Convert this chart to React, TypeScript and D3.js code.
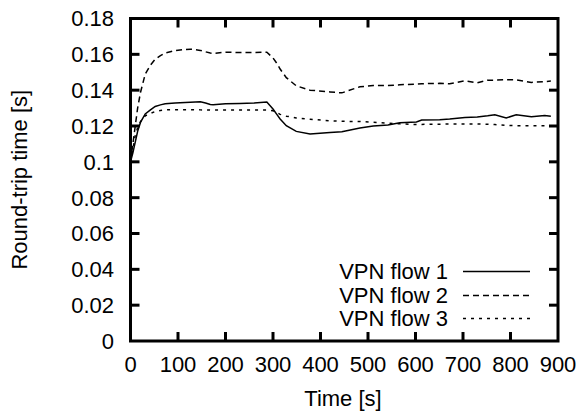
import React from 'react';
import * as d3 from 'd3';

const times = [0, 5, 10, 15, 21, 31, 42, 52, 63, 73, 94, 115, 126, 147, 158, 168, 174, 200, 230, 260, 287, 300, 308, 315, 328, 349, 378, 420, 445, 483, 511, 542, 567, 602, 613, 651, 672, 704, 730, 752, 767, 791, 812, 844, 872, 885];

const flow1 = [0.100, 0.105, 0.111, 0.117, 0.122, 0.1267, 0.129, 0.1309, 0.1318, 0.1324, 0.1328, 0.1331, 0.1333, 0.1335, 0.1328, 0.132, 0.1318, 0.1324, 0.1326, 0.1328, 0.1334, 0.1295, 0.1265, 0.1239, 0.1202, 0.117, 0.1155, 0.1164, 0.1168, 0.1189, 0.120, 0.1205, 0.1218, 0.1222, 0.1233, 0.1235, 0.1239, 0.1248, 0.125, 0.1257, 0.1263, 0.1245, 0.1263, 0.1252, 0.1259, 0.1254];

const flow2 = [0.100, 0.110, 0.120, 0.130, 0.1387, 0.149, 0.154, 0.1573, 0.1593, 0.1607, 0.1621, 0.1627, 0.1629, 0.1622, 0.1614, 0.1607, 0.1605, 0.1612, 0.161, 0.161, 0.1612, 0.158, 0.155, 0.1518, 0.147, 0.1424, 0.140, 0.139, 0.1385, 0.1419, 0.1426, 0.1426, 0.143, 0.1434, 0.1436, 0.1438, 0.1436, 0.1452, 0.1441, 0.1456, 0.1456, 0.1458, 0.1458, 0.1443, 0.1448, 0.1451];

const flow3 = [0.100, 0.107, 0.1146, 0.119, 0.1224, 0.1257, 0.127, 0.1281, 0.1287, 0.129, 0.1291, 0.1291, 0.1291, 0.129, 0.129, 0.1289, 0.1289, 0.1289, 0.1289, 0.1289, 0.1289, 0.1285, 0.1275, 0.1265, 0.1255, 0.1245, 0.1238, 0.1229, 0.1226, 0.1225, 0.1221, 0.1216, 0.1212, 0.1208, 0.1209, 0.121, 0.1211, 0.1211, 0.1211, 0.121, 0.1208, 0.1203, 0.1202, 0.1202, 0.1202, 0.1202];

const seriesNames = ['VPN flow 1', 'VPN flow 2', 'VPN flow 3'];
const dashes = ['none', '6,4', '3,5'];

const xTicks = [0, 100, 200, 300, 400, 500, 600, 700, 800, 900];
const yTicks = [0, 0.02, 0.04, 0.06, 0.08, 0.1, 0.12, 0.14, 0.16, 0.18];

const W = 583;
const H = 414;
const font = '"Liberation Sans", Arial, sans-serif';

export default function App() {
  const x = d3.scaleLinear().domain([0, 900]).range([130.5, 558]);
  const y = d3.scaleLinear().domain([0, 0.18]).range([341, 18.5]);

  const series = [flow1, flow2, flow3];
  const line = d3.line<number>()
    .x((_, i) => x(times[i]))
    .y(d => y(d));

  const [x0, x1] = x.range();
  const [y0, y1] = y.range();
  const tickLen = 9;

  const legendX = 448;
  const legendY = [271.5, 295.5, 318.5];

  return (
    <div style={{ position: 'absolute', left: 0, top: 0 }}>
      <svg width={W} height={H} style={{ display: 'block', background: '#fff' }} fontFamily={font}>
        {/* curves */}
        {series.map((s, i) => (
          <path key={i} d={line(s) || ''} fill="none" stroke="#000" strokeWidth={1.5}
            strokeDasharray={dashes[i]} />
        ))}

        {/* ticks, mirrored on all sides */}
        {xTicks.slice(1, -1).map(t => (
          <g key={'xt' + t} stroke="#000" strokeWidth={3}>
            <line x1={x(t)} x2={x(t)} y1={y0} y2={y0 - tickLen} />
            <line x1={x(t)} x2={x(t)} y1={y1} y2={y1 + tickLen} />
          </g>
        ))}
        {yTicks.slice(1, -1).map(t => (
          <g key={'yt' + t} stroke="#000" strokeWidth={3}>
            <line x1={x0} x2={x0 + tickLen} y1={y(t)} y2={y(t)} />
            <line x1={x1} x2={x1 - tickLen} y1={y(t)} y2={y(t)} />
          </g>
        ))}

        {/* frame */}
        <rect x={x0} y={y1} width={x1 - x0} height={y0 - y1} fill="none" stroke="#000" strokeWidth={3} />

        {/* tick labels */}
        {xTicks.map(t => (
          <text key={'xl' + t} x={x(t)} y={372} textAnchor="middle" fontSize={22}>{t}</text>
        ))}
        {yTicks.map(t => (
          <text key={'yl' + t} x={114} y={y(t)} dy="0.36em" textAnchor="end" fontSize={22}>{String(t)}</text>
        ))}

        {/* axis titles */}
        <text x={343} y={406} textAnchor="middle" fontSize={22}>Time [s]</text>
        <text transform={`translate(27,${(y0 + y1) / 2}) rotate(-90)`} textAnchor="middle" fontSize={22}>Round-trip time [s]</text>

        {/* legend */}
        {seriesNames.map((n, i) => (
          <g key={n}>
            <text x={legendX} y={legendY[i]} dy="0.36em" textAnchor="end" fontSize={22}>{n}</text>
            <line x1={463} x2={530} y1={legendY[i]} y2={legendY[i]} stroke="#000" strokeWidth={1.5}
              strokeDasharray={dashes[i]} />
          </g>
        ))}
      </svg>
    </div>
  );
}
